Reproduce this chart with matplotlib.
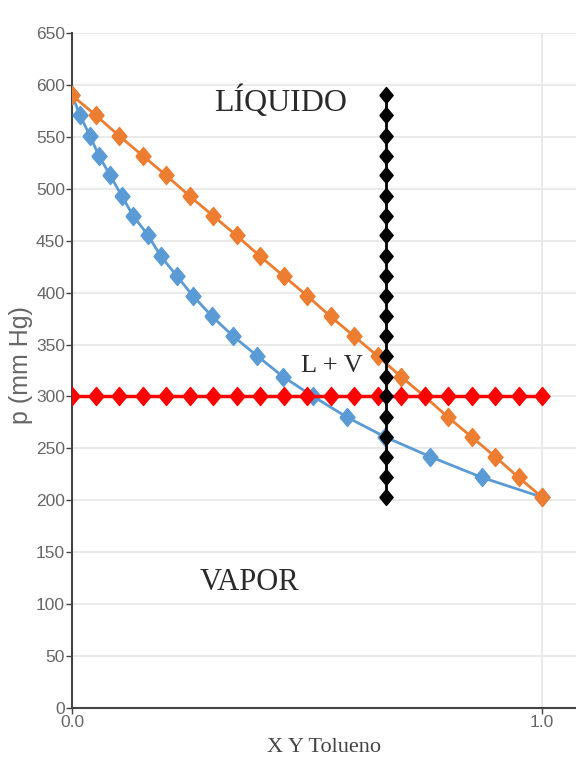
import matplotlib
matplotlib.use("Agg")
import matplotlib.pyplot as plt

# Pressure levels (mm Hg) shared by the curves
pressure = [590, 571, 551, 532, 513, 493, 474, 455, 435, 416, 397,
            377, 358, 339, 319, 300, 280, 261, 242, 222, 203]
# Liquid composition (bubble line, orange)
x_liquid = [0.00, 0.05, 0.10, 0.15, 0.20, 0.25, 0.30, 0.35, 0.40, 0.45, 0.50,
            0.55, 0.60, 0.65, 0.70, 0.75, 0.80, 0.85, 0.90, 0.95, 1.00]
# Vapour composition (dew line, blue)
y_vapor = [0.000, 0.017, 0.038, 0.057, 0.081, 0.106, 0.130, 0.162, 0.189, 0.223, 0.257,
           0.298, 0.343, 0.394, 0.449, 0.513, 0.585, 0.666, 0.762, 0.872, 1.000]
# Isobar at 300 mm Hg (red)
iso_x = x_liquid
iso_p = [300] * 21
# Isopleth at x = 0.667 (black)
pleth_x = [0.667] * 21
pleth_p = pressure

y_ticks = list(range(0, 651, 50))
x_ticks = [0.0, 1.0]
x_tick_labels = ["0.0", "1.0"]

# slightly tall diamond marker
tall_diamond = [(-1, 0), (0, 1.2), (1, 0), (0, -1.2), (-1, 0)]

fig = plt.figure(figsize=(5.76, 7.6), dpi=100)
ax = fig.add_axes([0.125, 0.0684, 0.875, 0.8882])

ax.plot(y_vapor, pressure, color="#5B9BD5", lw=2, marker=tall_diamond, ms=13, zorder=3)
ax.plot(x_liquid, pressure, color="#ED7D31", lw=2, marker=tall_diamond, ms=13, zorder=4)
ax.plot(iso_x, iso_p, color="#FF0000", lw=2.5, marker=tall_diamond, ms=13, zorder=5)
ax.plot(pleth_x, pleth_p, color="#000000", lw=2, marker=tall_diamond, ms=11.5, zorder=6)

ax.set_xlim(0, 1.072)
ax.set_ylim(0, 650)
ax.set_yticks(y_ticks)
ax.set_xticks(x_ticks)
ax.set_xticklabels(x_tick_labels)

ax.grid(True, color="#e6e6e6", lw=1.2, zorder=0)
ax.set_axisbelow(True)
for s in ["top", "right"]:
    ax.spines[s].set_visible(False)
for s in ["left", "bottom"]:
    ax.spines[s].set_color("#444444")
    ax.spines[s].set_linewidth(1.5)

ax.tick_params(axis="both", colors="#444444", labelcolor="#666666", length=4,
               width=1, labelsize=12.5)
for lab in ax.get_xticklabels() + ax.get_yticklabels():
    lab.set_fontfamily("Liberation Sans")
ax.tick_params(axis="y", pad=1)
ax.tick_params(axis="x", pad=1)

ax.set_ylabel("p (mm Hg)", fontsize=18, color="#666666",
              family="Liberation Sans")
ax.yaxis.set_label_coords(-0.078, 0.508)
ax.set_xlabel("X Y Tolueno", fontsize=16, color="#444444",
              family="Liberation Serif", labelpad=6)

ax.text(0.443, 584, "LÍQUIDO", fontsize=23, family="Liberation Serif",
        color="#2a2a2a", ha="center", va="center", zorder=7)
ax.text(0.377, 121, "VAPOR", fontsize=22, family="Liberation Serif",
        color="#2a2a2a", ha="center", va="center", zorder=7)
ax.text(0.553, 329, "L + V", fontsize=19, family="Liberation Serif",
        color="#2a2a2a", ha="center", va="center", zorder=7)

fig.savefig("out.png", dpi=100)
